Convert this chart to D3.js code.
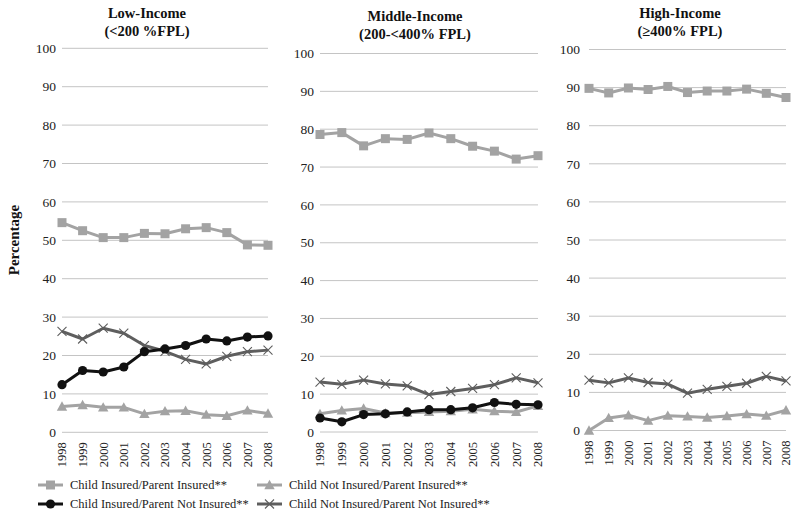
<!DOCTYPE html>
<html><head><meta charset="utf-8">
<script src="https://cdn.jsdelivr.net/npm/d3@7"></script>
<style>body{margin:0;background:#fff}svg{display:block}</style>
</head><body>
<svg id="chart" width="800" height="518"></svg>
<script>
const years = [1998,1999,2000,2001,2002,2003,2004,2005,2006,2007,2008];
const yTicks = [0,10,20,30,40,50,60,70,80,90,100];
const seriesNames = ["Child Insured/Parent Insured**","Child Not Insured/Parent Insured**","Child Insured/Parent Not Insured**","Child Not Insured/Parent Not Insured**"];
const panelTitles = [["Low-Income","(<200 %FPL)"],["Middle-Income","(200-<400% FPL)"],["High-Income","(\u2265400% FPL)"]];

// Low-income
const lowCIPI  = [54.6,52.5,50.7,50.7,51.8,51.7,53.0,53.3,52.0,48.8,48.7];
const lowCNPI  = [6.7,7.1,6.5,6.5,4.8,5.5,5.6,4.6,4.3,5.7,4.9];
const lowCIPN  = [12.4,16.1,15.7,17.0,21.0,21.7,22.6,24.3,23.8,24.8,25.1];
const lowCNPN  = [26.3,24.3,27.1,25.8,22.6,21.1,19.0,17.8,19.8,21.0,21.4];
// Middle-income
const midCIPI  = [78.6,79.1,75.6,77.5,77.3,79.0,77.5,75.5,74.2,72.1,73.0];
const midCNPI  = [4.8,5.7,6.2,5.0,5.1,5.3,5.5,6.0,5.5,5.3,6.9];
const midCIPN  = [3.7,2.7,4.6,4.8,5.3,5.9,5.9,6.4,7.8,7.3,7.2];
const midCNPN  = [13.2,12.6,13.7,12.7,12.2,9.9,10.7,11.5,12.5,14.3,13.0];
// High-income
const highCIPI = [89.8,88.6,89.9,89.5,90.3,88.7,89.1,89.1,89.6,88.5,87.4];
const highCNPI = [0.0,3.3,4.0,2.6,3.9,3.7,3.4,3.8,4.3,3.9,5.3];
const highCNPN = [13.2,12.5,13.8,12.6,12.2,9.8,10.8,11.6,12.4,14.2,13.0];

const styles = [
  {color:"#a3a3a3", marker:"square"},
  {color:"#a3a3a3", marker:"triangle"},
  {color:"#111111", marker:"circle"},
  {color:"#5e5e5e", marker:"x"}
];

const panels = [
  {x0:62, x1:268, yTop:48.3, yBot:432.3, labelX:56, series:[[0,lowCIPI],[1,lowCNPI],[3,lowCNPN],[2,lowCIPN]], titleX:147, titleY:[18,36]},
  {x0:320, x1:538, yTop:53.5, yBot:432, labelX:314, series:[[0,midCIPI],[3,midCNPN],[1,midCNPI],[2,midCIPN]], titleX:415, titleY:[21,39]},
  {x0:589, x1:786, yTop:49.5, yBot:430.5, labelX:580, series:[[0,highCIPI],[3,highCNPN],[1,highCNPI]], titleX:680, titleY:[18,36]}
];

const svg = d3.select("#chart");
const font = "'Liberation Serif','Times New Roman',serif";

function drawMarker(g, type, color, x, y) {
  if (type === "square") {
    g.append("rect").attr("x", x-4.5).attr("y", y-4.5).attr("width", 9).attr("height", 9).attr("fill", color);
  } else if (type === "triangle") {
    const s = 5.2;
    g.append("path").attr("d", `M${x},${y-s} L${x+s},${y+s*0.8} L${x-s},${y+s*0.8} Z`).attr("fill", color);
  } else if (type === "circle") {
    g.append("circle").attr("cx", x).attr("cy", y).attr("r", 4.6).attr("fill", color);
  } else if (type === "x") {
    const s = 4.5;
    g.append("path").attr("d", `M${x-s},${y-s} L${x+s},${y+s} M${x-s},${y+s} L${x+s},${y-s}`)
      .attr("stroke", color).attr("stroke-width", 1.1).attr("fill", "none");
  }
}

panels.forEach((p, i) => {
  const x = d3.scalePoint().domain(years).range([p.x0, p.x1]);
  const y = d3.scaleLinear().domain([0, 100]).range([p.yBot, p.yTop]);
  const g = svg.append("g");

  // gridlines
  g.selectAll("line.grid").data(yTicks).enter().append("line")
    .attr("x1", p.x0).attr("x2", p.x1)
    .attr("y1", d => y(d)).attr("y2", d => y(d))
    .attr("stroke", "#c4c4c4").attr("stroke-width", 1);

  // y tick labels
  g.selectAll("text.yt").data(yTicks).enter().append("text")
    .attr("x", p.labelX).attr("y", d => y(d)).attr("dy", "0.35em")
    .attr("text-anchor", "end").attr("font-family", font).attr("font-size", 13.5)
    .attr("fill", "#222").text(d => d);

  // x tick labels rotated
  g.selectAll("text.xt").data(years).enter().append("text")
    .attr("transform", d => `translate(${x(d)},${p.yBot + 10}) rotate(-90)`)
    .attr("text-anchor", "end").attr("dy", "0.35em")
    .attr("font-family", font).attr("font-size", 12.5).attr("fill", "#222").text(d => d);

  // titles
  p.titleY.forEach((ty, k) => {
    g.append("text").attr("x", p.titleX).attr("y", ty).attr("text-anchor", "middle")
      .attr("font-family", font).attr("font-weight", "bold").attr("font-size", 14.5)
      .attr("fill", "#111").text(panelTitles[i][k]);
  });

  // series
  p.series.forEach(([si, vals]) => {
    const st = styles[si];
    const line = d3.line().x((d, j) => x(years[j])).y(d => y(d));
    g.append("path").datum(vals).attr("d", line).attr("fill", "none")
      .attr("stroke", st.color).attr("stroke-width", 3).attr("stroke-linejoin", "round");
    const mg = g.append("g");
    vals.forEach((v, j) => drawMarker(mg, st.marker, st.color, x(years[j]), y(v)));
  });
});

// y axis title
svg.append("text").attr("transform", "translate(19,240) rotate(-90)")
  .attr("text-anchor", "middle").attr("font-family", font).attr("font-weight", "bold")
  .attr("font-size", 15).attr("fill", "#111").text("Percentage");

// legend
const legendPos = [[38,485],[257,485],[38,504],[257,504]];
seriesNames.forEach((name, i) => {
  const [lx, ly] = legendPos[i];
  const st = styles[i];
  const g = svg.append("g");
  g.append("line").attr("x1", lx).attr("x2", lx + 25).attr("y1", ly).attr("y2", ly)
    .attr("stroke", st.color).attr("stroke-width", 3);
  drawMarker(g, st.marker, st.color, lx + 12.5, ly);
  g.append("text").attr("x", lx + 32).attr("y", ly).attr("dy", "0.35em")
    .attr("font-family", font).attr("font-size", 12.5).attr("fill", "#222").text(name);
});
</script>
</body></html>
